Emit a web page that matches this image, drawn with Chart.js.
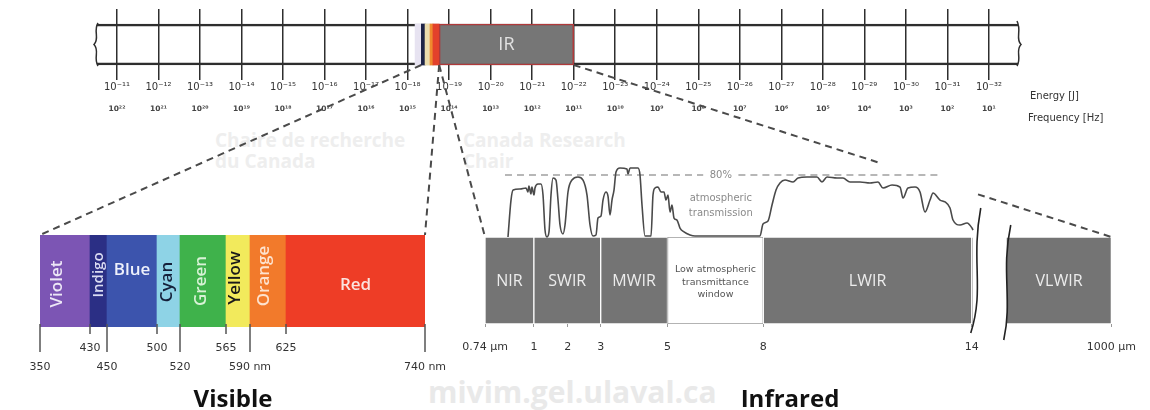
<!DOCTYPE html>
<html><head><meta charset="utf-8">
<script src="https://cdn.jsdelivr.net/npm/chart.js@4.4.1/dist/chart.umd.min.js"></script>
<style>
html,body{margin:0;padding:0;background:#fff;}
#stage{position:relative;width:1150px;height:410px;overflow:hidden;background:#fff;}
#stage canvas{position:absolute;left:0;top:0;}
.t{position:absolute;white-space:nowrap;font-family:'DejaVu Sans',sans-serif;color:#333;}
.wm{position:absolute;white-space:nowrap;color:#eeeeee;font-family:'Open Sans',sans-serif;font-weight:700;}
.h{position:absolute;text-align:center;font-family:'Open Sans',sans-serif;font-weight:700;font-size:24px;line-height:30px;color:#111;}
</style></head><body>
<div id="stage">
  <div class="wm" style="left:215px;top:130px;font-size:19px;line-height:21px">Chaire de recherche<br>du Canada</div>
  <div class="wm" style="left:463px;top:130px;font-size:19px;line-height:21px">Canada Research<br>Chair</div>
  <div class="wm" style="left:428px;top:374px;font-size:30px;line-height:36px;color:#e9e9e9">mivim.gel.ulaval.ca</div>
  <canvas id="cTop" width="1150" height="410"></canvas>
  <canvas id="cVis" width="1150" height="410"></canvas>
  <canvas id="cIrB" width="1150" height="410"></canvas>
  <canvas id="cIrC" width="1150" height="410"></canvas>
  <div class="t" style="left:1030px;top:90px;font-size:10px;line-height:12px">Energy [J]</div>
  <div class="t" style="left:1028px;top:112px;font-size:10px;line-height:12px">Frequency [Hz]</div>
  <div class="h" style="left:183px;top:383px;width:100px">Visible</div>
  <div class="h" style="left:735px;top:383px;width:110px">Infrared</div>
</div>
<script>
// ================= DATA =================
const energyLog10J      = [-11,-12,-13,-14,-15,-16,-17,-18,-19,-20,-21,-22,-23,-24,-25,-26,-27,-28,-29,-30,-31,-32];
const frequencyLog10Hz  = [22,21,20,19,18,17,16,15,14,13,12,11,10,9,8,7,6,5,4,3,2,1];
const energyAxisRange   = [-32.7, -10.52];
const topBandNames      = ['UV','Violet–Blue','Green–Yellow','Orange','Red','IR'];
const topBandFrom       = [-18.18,-18.33,-18.42,-18.54,-18.61,-18.76];
const topBandTo         = [-18.33,-18.42,-18.54,-18.61,-18.76,-22.0];

const visibleBands      = ['Violet','Indigo','Blue','Cyan','Green','Yellow','Orange','Red'];
const visibleEdgesNm    = [350,430,450,500,520,565,590,625,740];
const visibleTickLabels = ['350','430','450','500','520','565','590 nm','625','740 nm'];

const irBands           = ['NIR','SWIR','MWIR','Low atmospheric transmittance window','LWIR','VLWIR'];
const irEdgesUm         = [0.74,1,3,5,8,14,1000];
const irTicksUm         = [0.74,1,2,3,5,8,14,1000];
const irTickLabels      = ['0.74 μm','1','2','3','5','8','14','1000 μm'];

const transWavelengthUm = [0.862,0.878,0.889,0.926,0.958,0.968,0.973,0.984,0.989,1.0,1.029,1.118,1.206,1.265,1.324,1.382,1.441,1.5,1.559,1.647,1.706,1.765,1.853,1.912,2.0,2.121,2.303,2.455,2.576,2.667,2.758,2.848,2.909,3.0,3.06,3.149,3.209,3.269,3.328,3.388,3.448,3.567,3.776,3.806,3.866,4.104,4.164,4.224,4.313,4.403,4.493,4.552,4.612,4.701,4.791,4.881,4.94,5.0,5.063,5.125,5.188,5.281,5.375,5.5,5.688,5.844,7.875,7.969,8.115,8.23,8.345,8.459,8.603,8.833,8.976,9.235,9.522,9.665,9.809,10.096,10.268,10.469,10.756,11.043,11.273,11.417,11.675,11.905,11.991,12.134,12.335,12.479,12.622,12.766,12.852,13.053,13.197,13.34,13.426,13.627,13.828,13.971,14.0];
const transPercent      = [0,47.7,60.6,61.9,63.2,58.1,65.8,55.5,64.5,54.2,63.2,68.4,68.4,54.2,9.0,0,6.5,54.2,76.1,73.5,47.7,15.5,3.9,15.5,58.1,73.5,77.4,73.5,54.2,15.5,1.3,2.6,24.5,27.1,47.7,58.1,52.9,28.4,47.7,60.6,83.9,89.0,87.7,81.3,89.0,89.0,80.0,41.3,1.3,1.3,1.3,54.2,63.2,64.5,58.1,58.1,47.7,54.2,32.3,41.3,24.5,21.9,11.6,6.5,2.6,1.3,1.3,16.8,20.6,41.3,60.6,69.7,73.5,71.0,76.1,77.4,77.4,71.0,77.4,76.1,76.1,71.0,71.0,69.7,71.0,63.2,67.1,64.5,50.3,63.2,64.5,58.1,32.3,47.7,56.8,47.7,45.2,37.4,21.9,15.5,18.1,11.6,9.0];
const refLevelPct       = 80;
const refLineUm         = [0.846, 6.1, 6.65, 7.2, 13.0];
const refLineLabel      = '80%';
const refLabelUm        = 6.65;
const transLabelLines   = ['atmospheric','transmission'];
const transLabelPct     = [50, 31];

// ================= STYLES =================
const topBandColors   = ['#e7e3f1','#1d2447','#eadcae','#ef8a2e','#e3412b','#767676'];
const topBandBorders  = ['#e7e3f1','#1d2447','#eadcae','#ef8a2e','#e3412b','#b0393a'];
const topBandBorderW  = [0,0,0,0,0,1.5];
const visibleColors   = ['#7c55b4','#2b2f85','#3c54ad','#8ed3e6','#3fb24b','#f2ea5c','#f27a2b','#ee3d26'];
const visibleText     = ['#ece6f6','#d9dcf2','#eef1fb','#15203a','#d8f2d6','#1a1a1a','#fde3cf','#fbe3df'];
const visibleRotated  = [true,true,false,true,true,true,true,false];
const visibleFont     = [17,15,17,17,17,17,17,17];
const visibleDx       = [-8,0,0,-1,-2,-3,-4,0];
const visibleDy       = [3,-6,-11,1,0,-3,-5,4];
const irColors        = ['#747474','#747474','#747474','#ffffff','#747474','#747474'];
const irBorders       = ['#ffffff','#ffffff','#ffffff','#9a9a9a','#ffffff','#ffffff'];
const FONT = "'DejaVu Sans', sans-serif";
Chart.defaults.font.family = FONT;

const SUP = {'-':'⁻','0':'⁰','1':'¹','2':'²','3':'³','4':'⁴','5':'⁵','6':'⁶','7':'⁷','8':'⁸','9':'⁹'};
const pow10 = e => '10' + String(e).split('').map(c => SUP[c]).join('');

// ============ piecewise linear scale (schematic axis) ============
class PiecewiseScale extends Chart.LinearScale {
  static id = 'piecewise';
  static defaults = {};
  pwDecimal(v) {
    const bv = this.options.bpValues, bf = this.options.bpFrac;
    let i = 1;
    while (i < bv.length - 1 && v > bv[i]) i++;
    return bf[i-1] + (v - bv[i-1]) * (bf[i] - bf[i-1]) / (bv[i] - bv[i-1]);
  }
  getPixelForValue(v) { return this.getPixelForDecimal(this.pwDecimal(v)); }
  getValueForPixel(p) {
    const d = this.getDecimalForPixel(p);
    const bv = this.options.bpValues, bf = this.options.bpFrac;
    let i = 1;
    while (i < bf.length - 1 && d > bf[i]) i++;
    return bv[i-1] + (d - bf[i-1]) * (bv[i] - bv[i-1]) / (bf[i] - bf[i-1]);
  }
}
Chart.register(PiecewiseScale);

const baseOpts = {responsive:false, animation:false, events:[], plugins:{legend:{display:false}, tooltip:{enabled:false}}};

// ================= TOP SPECTRUM BAR =================
const topDecor = {
  id:'topDecor',
  afterDatasetsDraw(chart){
    const ctx = chart.ctx, xs = chart.scales.x;
    const el = chart.getDatasetMeta(1).data[0];
    const top = el.y - el.height/2, bot = el.y + el.height/2, mid = el.y;
    const L = xs.getPixelForValue(energyAxisRange[1]), R = xs.getPixelForValue(energyAxisRange[0]);
    ctx.save();
    ctx.strokeStyle = '#2e2e2e'; ctx.lineWidth = 1.5;
    ctx.beginPath(); ctx.moveTo(L+1, top-1);
    ctx.bezierCurveTo(L-4, top+7, L+3, mid-6, L-3, mid);
    ctx.bezierCurveTo(L+3, mid+6, L-4, bot-7, L+1, bot+1); ctx.stroke();
    ctx.beginPath(); ctx.moveTo(R-1, top-3);
    ctx.bezierCurveTo(R+4, top+7, R-3, mid-6, R+3, mid);
    ctx.bezierCurveTo(R-3, mid+6, R+4, bot-7, R-1, bot+1); ctx.stroke();
    const ir = chart.getDatasetMeta(0).data[5];
    ctx.fillStyle = '#e2e2e2'; ctx.font = "18px 'Open Sans'";
    ctx.textAlign = 'center'; ctx.textBaseline = 'middle';
    ctx.fillText(topBandNames[5], (ir.x + ir.base)/2, ir.y);
    ctx.restore();
  }
};
const topChart = new Chart(document.getElementById('cTop'), {
  type:'bar',
  data:{labels:['spectrum'], datasets:[
    {data: topBandNames.map((n,i)=>({x:[topBandFrom[i], topBandTo[i]], y:'spectrum'})),
     backgroundColor: topBandColors, borderColor: topBandBorders, borderWidth: topBandBorderW,
     borderSkipped:false, barThickness:41, grouped:false},
    {data:[{x:energyAxisRange, y:'spectrum'}], backgroundColor:'rgba(0,0,0,0)', borderColor:'#2e2e2e',
     borderWidth:{top:2,bottom:2,left:0,right:0}, borderSkipped:false, barThickness:41, grouped:false}
  ]},
  options:{...baseOpts, indexAxis:'y',
    layout:{padding:{left:97, right:132, top:9, bottom:285}},
    scales:{
      x:{type:'linear', min:energyAxisRange[0], max:energyAxisRange[1], reverse:true, position:'bottom', weight:0,
         afterBuildTicks:s=>{ s.ticks = energyLog10J.map(v=>({value:v})); },
         afterFit:s=>{ s.height = 20; },
         grid:{color:'#2e2e2e', lineWidth:1.5, drawTicks:false}, border:{display:false},
         ticks:{autoSkip:false, maxRotation:0, padding:1, color:'#333', font:{size:10}, callback:(v,i)=>pow10(energyLog10J[i])}},
      x2:{type:'linear', axis:'x', min:energyAxisRange[0], max:energyAxisRange[1], reverse:true, position:'bottom', weight:1,
         afterBuildTicks:s=>{ s.ticks = energyLog10J.map(v=>({value:v})); },
         afterFit:s=>{ s.height = 25; },
         grid:{display:false, drawTicks:false}, border:{display:false},
         ticks:{autoSkip:false, maxRotation:0, padding:5, color:'#444', font:{size:7.5, weight:'bold'}, callback:(v,i)=>pow10(frequencyLog10Hz[i])}},
      y:{display:false}
    }
  },
  plugins:[topDecor]
});

// ================= VISIBLE BAND =================
const visDecor = {
  id:'visDecor',
  afterDatasetsDraw(chart){
    const ctx = chart.ctx, meta = chart.getDatasetMeta(0);
    ctx.save(); ctx.textAlign = 'center'; ctx.textBaseline = 'middle';
    meta.data.forEach((el,i)=>{
      const cx = (el.x + el.base)/2 + visibleDx[i], cy = el.y + visibleDy[i];
      ctx.fillStyle = visibleText[i];
      ctx.font = "600 " + visibleFont[i] + "px 'Open Sans'";
      ctx.save(); ctx.translate(cx, cy);
      if (visibleRotated[i]) ctx.rotate(-Math.PI/2);
      ctx.fillText(visibleBands[i], 0, 0);
      ctx.restore();
    });
    const xs = chart.scales.x, b = chart.chartArea.bottom;
    ctx.strokeStyle = '#555'; ctx.lineWidth = 1.5;
    visibleEdgesNm.forEach((v,i)=>{
      const x = xs.getPixelForValue(v);
      ctx.beginPath(); ctx.moveTo(x, b-3); ctx.lineTo(x, b + (i%2 ? 7 : 25)); ctx.stroke();
    });
    ctx.restore();
  }
};
const visChart = new Chart(document.getElementById('cVis'), {
  type:'bar',
  data:{labels:['Visible'], datasets:[{
    data: visibleBands.map((n,i)=>({x:[visibleEdgesNm[i], visibleEdgesNm[i+1]], y:'Visible'})),
    backgroundColor: visibleColors, borderWidth:0, barPercentage:1, categoryPercentage:1}]},
  options:{...baseOpts, indexAxis:'y',
    layout:{padding:{left:40, right:725, top:235, bottom:33}},
    scales:{
      x:{type:'piecewise', min:350, max:740, bpValues:visibleEdgesNm,
         bpFrac:[0,50,67,117,140,186,210,246,385].map(p=>p/385),
         afterBuildTicks:s=>{ s.ticks = visibleEdgesNm.map(v=>({value:v})); },
         afterFit:s=>{ s.height = 50; },
         grid:{display:false, drawTicks:false}, border:{display:false},
         ticks:{autoSkip:false, maxRotation:0, padding:12, color:'#333', font:{size:11, lineHeight:'19px'},
                callback:(v,i)=> i%2 ? [visibleTickLabels[i], ''] : ['', visibleTickLabels[i]]}},
      y:{display:false}
    }
  },
  plugins:[visDecor]
});

// ================= INFRARED BANDS =================
const irBp = {bpValues: irTicksUm, bpFrac:[0,49,83,116,183,279,488,628].map(p=>p/628)};
const irDecor = {
  id:'irDecor',
  afterDatasetsDraw(chart){
    const ctx = chart.ctx, xs = chart.scales.x, ca = chart.chartArea;
    const x14 = xs.getPixelForValue(14), gap = 35;
    ctx.save();
    ctx.fillStyle = '#fff'; ctx.fillRect(x14+1, ca.top-1, gap-1, ca.bottom-ca.top+3);
    ctx.strokeStyle = '#222'; ctx.lineWidth = 1.6;
    ctx.beginPath(); ctx.moveTo(x14+9, ca.top-29);
    ctx.bezierCurveTo(x14-1, ca.top+25, x14+13, ca.bottom-35, x14-1, ca.bottom+9); ctx.stroke();
    ctx.beginPath(); ctx.moveTo(x14+39, ca.top-12);
    ctx.bezierCurveTo(x14+29, ca.top+35, x14+41, ca.bottom-25, x14+32, ca.bottom+16); ctx.stroke();
    const meta = chart.getDatasetMeta(0);
    ctx.textAlign = 'center'; ctx.textBaseline = 'middle';
    meta.data.forEach((el,i)=>{
      const left = el.base === x14 ? x14 + gap : el.base;
      const cx = (left + el.x)/2, cy = el.y;
      if (irColors[i] === '#ffffff') {
        ctx.fillStyle = '#555'; ctx.font = "9.5px 'DejaVu Sans'";
        ctx.fillText('Low atmospheric', cx, cy-11);
        ctx.fillText('transmittance', cx, cy+2);
        ctx.fillText('window', cx, cy+14);
      } else {
        ctx.fillStyle = '#ececec'; ctx.font = "16px 'Open Sans'";
        ctx.fillText(irBands[i], cx, cy+1);
      }
    });
    ctx.restore();
  }
};
const irBandChart = new Chart(document.getElementById('cIrB'), {
  type:'bar',
  data:{labels:['Infrared'], datasets:[{
    data: irBands.map((n,i)=>({x:[irEdgesUm[i], irEdgesUm[i+1]], y:'Infrared'})),
    backgroundColor: irColors, borderColor: irBorders, borderWidth:1, borderSkipped:false,
    barPercentage:1, categoryPercentage:1}]},
  options:{...baseOpts, indexAxis:'y',
    layout:{padding:{left:485, right:37, top:237, bottom:46}},
    scales:{
      x:{type:'piecewise', min:0.74, max:1000, ...irBp,
         afterBuildTicks:s=>{ s.ticks = irTicksUm.map(v=>({value:v})); },
         afterFit:s=>{ s.height = 40; },
         grid:{display:true, drawOnChartArea:false, drawTicks:true, tickLength:3, color:'#999', lineWidth:1},
         border:{display:false},
         ticks:{autoSkip:false, maxRotation:0, padding:14, color:'#333', font:{size:11},
                callback:(v,i)=>irTickLabels[i]}},
      y:{display:false}
    }
  },
  plugins:[irDecor]
});

// ================= TRANSMISSION CURVE + CONNECTORS =================
const curveDecor = {
  id:'curveDecor',
  afterDatasetsDraw(chart){
    const ctx = chart.ctx, xs = chart.scales.x, ys = chart.scales.y;
    ctx.save(); ctx.textAlign = 'center'; ctx.textBaseline = 'middle';
    ctx.fillStyle = '#8a8a8a'; ctx.font = "10px 'DejaVu Sans'";
    ctx.fillText(refLineLabel, xs.getPixelForValue(refLabelUm), ys.getPixelForValue(refLevelPct));
    transLabelLines.forEach((t,i)=> ctx.fillText(t, xs.getPixelForValue(refLabelUm), ys.getPixelForValue(transLabelPct[i])));
    ctx.restore();
  }
};
const connectors = {
  id:'connectors',
  afterDraw(chart){
    const ctx = chart.ctx;
    const tEl = topChart.getDatasetMeta(1).data[0];
    const yTop = tEl.y + tEl.height/2;
    const tx = topChart.scales.x;
    const vx = visChart.scales.x, vTop = visChart.chartArea.top;
    const ix = irBandChart.scales.x, iTop = irBandChart.chartArea.top;
    const seg = (a,b)=>{ ctx.beginPath(); ctx.moveTo(a[0],a[1]); ctx.lineTo(b[0],b[1]); ctx.stroke(); };
    ctx.save();
    ctx.strokeStyle = '#4a4a4a'; ctx.lineWidth = 2; ctx.setLineDash([7,5]);
    seg([tx.getPixelForValue(topBandFrom[1]), yTop], [vx.getPixelForValue(visibleEdgesNm[0]), vTop]);
    seg([tx.getPixelForValue(topBandTo[4]), yTop], [vx.getPixelForValue(visibleEdgesNm[visibleEdgesNm.length-1]), vTop]);
    seg([tx.getPixelForValue(topBandFrom[5]), yTop], [ix.getPixelForValue(irEdgesUm[0]), iTop]);
    const P0 = [tx.getPixelForValue(topBandTo[5]), yTop];
    const P1 = [ix.getPixelForValue(irEdgesUm[irEdgesUm.length-1]), iTop];
    const yGap = chart.scales.y.getPixelForValue(refLevelPct) - 12;
    const xRes = chart.scales.x.getPixelForValue(14) + 5;
    const t1 = (yGap - P0[1])/(P1[1]-P0[1]), t2 = (xRes - P0[0])/(P1[0]-P0[0]);
    const at = t => [P0[0] + t*(P1[0]-P0[0]), P0[1] + t*(P1[1]-P0[1])];
    seg(P0, at(t1)); seg(at(t2), P1);
    ctx.restore();
  }
};
const irCurveChart = new Chart(document.getElementById('cIrC'), {
  type:'line',
  data:{datasets:[
    {data: transWavelengthUm.map((x,i)=>({x, y:transPercent[i]})), borderColor:'#4a4a4a', borderWidth:1.6,
     pointRadius:0, cubicInterpolationMode:'monotone', clip:false},
    {data: refLineUm.map((x,i)=>({x, y: i===2 ? null : refLevelPct})), borderColor:'#a0a0a0', borderWidth:1.5,
     borderDash:[7,5], pointRadius:0, spanGaps:false, clip:false}
  ]},
  options:{...baseOpts,
    layout:{padding:{left:485, right:37, top:150, bottom:173}},
    scales:{
      x:{type:'piecewise', display:false, min:0.74, max:1000, ...irBp},
      y:{type:'linear', display:false, min:0, max:112.3}
    }
  },
  plugins:[curveDecor, connectors]
});
</script>
</body></html>
